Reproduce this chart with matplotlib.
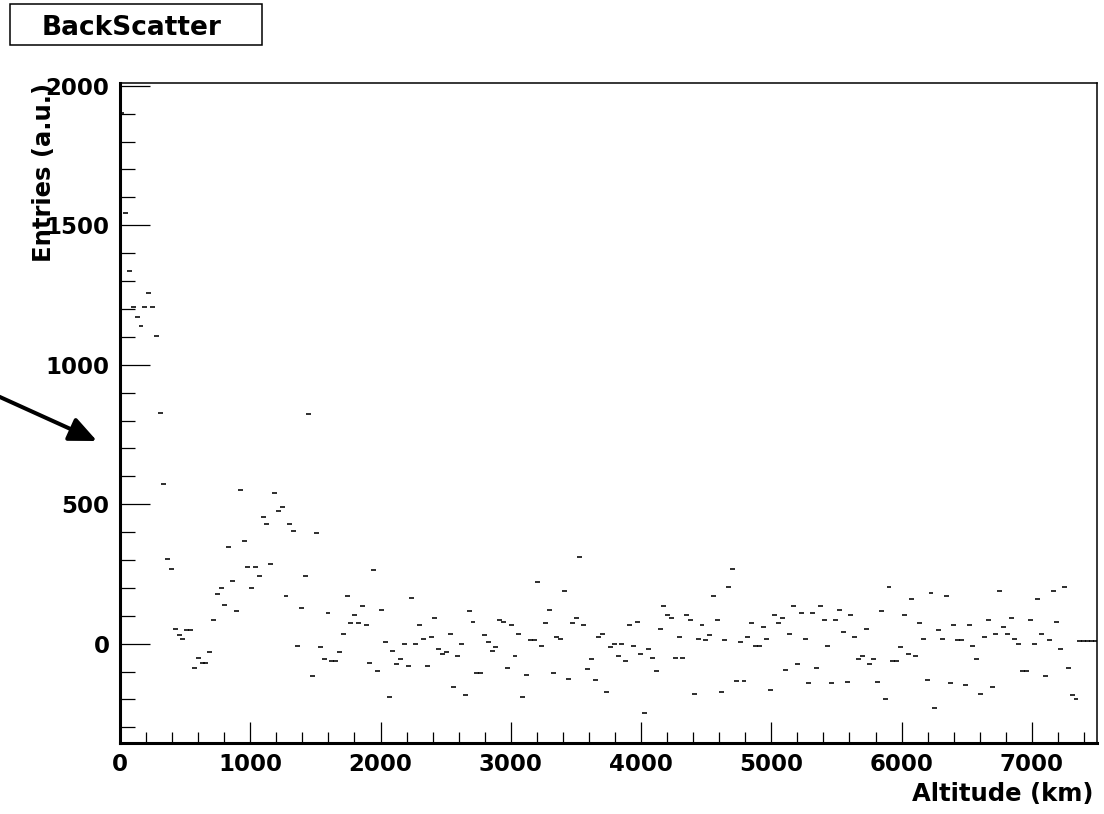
import numpy as np
import matplotlib.pyplot as plt
from matplotlib.patches import Rectangle
from matplotlib.ticker import MultipleLocator

plt.rcParams['font.family'] = 'DejaVu Sans'
plt.rcParams['font.weight'] = 'bold'

# histogram binning (altitude in km)
alt_min, alt_max = 0.0, 7500.0
n_bins = 256

# bin contents, lowest altitude first
entries = [
    1902, 1545, 1337, 1207, 1170, 1140, 1207, 1256, 1207, 1104,
    828, 571, 305, 269, 54, 30, 18, 48, 48, -86,
    -50, -68, -68, -31, 85, 177, 201, 140, 348, 226,
    116, 551, 367, 275, 201, 275, 244, 453, 428, 287,
    539, 477, 490, 171, 428, 404, -7, 128, 244, 822,
    -117, 398, -13, -56, 109, -62, -62, -31, 36, 171,
    73, 103, 73, 134, 67, -68, 263, -99, 122, 5,
    -191, -25, -74, -56, 0, -80, 165, 0, 67, 18,
    -80, 24, 91, -19, -37, -31, 36, -154, -43, 0,
    -185, 116, 79, -104, -104, 30, 5, -25, -13, 85,
    79, -86, 67, -43, 36, -191, -111, 12, 12, 220,
    -7, 73, 122, -105, 24, 18, 189, -125, 73, 91,
    312, 67, -92, -56, -131, 24, 36, -172, -13, -1,
    -44, -1, -62, 67, -7, 79, -38, -248, -19, -50,
    -99, 54, 134, 103, 91, -50, 24, -50, 103, 85,
    -179, 18, 67, 12, 30, 171, 85, -172, 12, 202,
    269, -135, 5, -135, 24, 73, -7, -7, 61, 18,
    -166, 103, 73, 91, -93, 36, 134, -74, 109, 18,
    -142, 109, -86, 134, 85, -7, -142, 85, 122, 42,
    -136, 103, 24, -56, -44, 54, -74, -56, -136, 116,
    -197, 202, -62, -62, -13, 103, -38, 159, -44, 73,
    18, -131, 183, -229, 48, 18, 171, -142, 67, 12,
    12, -148, 67, -7, -56, -179, 24, 85, -154, 36,
    189, 61, 36, 91, 18, -1, -99, -99, 85, -1,
    159, 36, -117, 12, 189, 79, -19, 202, -86, -185,
    -197, 11, 11, 11, 11, 11,
]

title = "BackScatter"
xtitle = "Altitude (km)"
ytitle = "Entries (a.u.)"

W, H = 1104, 814
fig = plt.figure(figsize=(W / 100, H / 100), dpi=100)
ax = fig.add_axes([120 / W, (H - 743) / H, 977 / W, 660 / H])

edges = np.linspace(alt_min, alt_max, n_bins + 1)
centers = 0.5 * (edges[:-1] + edges[1:])
half = 0.65 * (edges[1] - edges[0])
ax.hlines(entries, centers - half, centers + half, colors='k', lw=1.15)

ax.set_xlim(alt_min, alt_max)
ax.set_ylim(-356, 2010)

# ROOT-like frame: heavy axes on left/bottom, thin box elsewhere
for side in ('left', 'bottom'):
    ax.spines[side].set_linewidth(2.2)
for side in ('top', 'right'):
    ax.spines[side].set_linewidth(1.1)

ax.xaxis.set_major_locator(MultipleLocator(1000))
ax.xaxis.set_minor_locator(MultipleLocator(200))
ax.yaxis.set_major_locator(MultipleLocator(500))
ax.yaxis.set_minor_locator(MultipleLocator(100))
ax.tick_params(axis='both', which='both', direction='in', width=0.9,
               labelsize=16.5, colors='k')
ax.tick_params(axis='y', which='major', length=21.6, pad=7.5)
ax.tick_params(axis='y', which='minor', length=10.8)
ax.tick_params(axis='x', which='major', length=15.1, pad=7.3)
ax.tick_params(axis='x', which='minor', length=7.9)
for lab in ax.get_xticklabels() + ax.get_yticklabels():
    lab.set_fontweight('bold')

ax.set_xlabel(xtitle, fontsize=17.5, fontweight='bold', loc='right')
ax.xaxis.set_label_coords((1093 - 120) / 977, (743 - 782) / 660)
ax.set_ylabel(ytitle, fontsize=17.5, fontweight='bold', loc='top')
ax.yaxis.set_label_coords((56 - 120) / 977, 1.0)

# title box
fig.patches.append(Rectangle((10 / W, 1 - 45 / H), 252 / W, 41 / H,
                             transform=fig.transFigure, facecolor='white',
                             edgecolor='k', lw=1.1))
fig.text(132 / W, 1 - 35 / H, title, ha='center', va='baseline',
         fontsize=19, fontweight='bold')

# pointer arrow on the left margin
ax.annotate('', xy=(97, H - 441), xycoords='figure pixels',
            xytext=(-12, H - 391.6), textcoords='figure pixels',
            arrowprops=dict(arrowstyle='-|>,head_length=0.83,head_width=0.37',
                            mutation_scale=20, lw=2.9, color='k',
                            shrinkA=0, shrinkB=0),
            annotation_clip=False)

fig.savefig('out.png', dpi=100)
